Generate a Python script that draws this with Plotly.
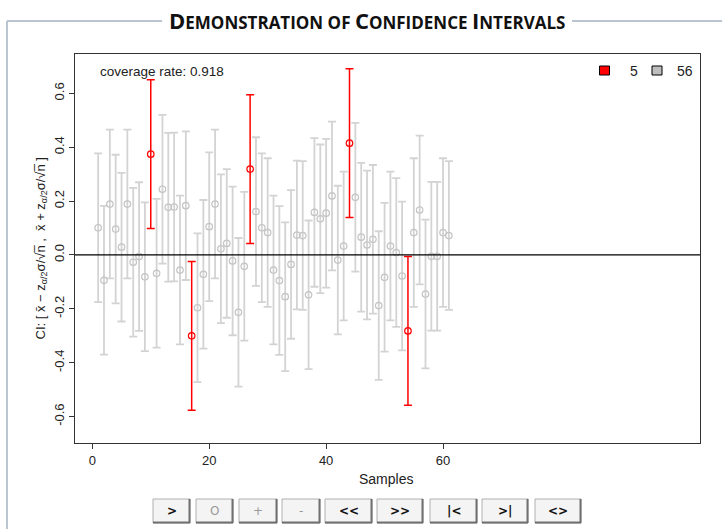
import plotly.graph_objects as go

# ---------------- data ----------------
samples = list(range(1, 62))
sample_means = [
    0.101, -0.094, 0.189, 0.096, 0.029, 0.189, -0.027, -0.006, -0.081, 0.374,
    -0.068, 0.244, 0.177, 0.178, -0.056, 0.183, -0.300, -0.196, -0.072, 0.105,
    0.189, 0.023, 0.043, -0.022, -0.213, -0.042, 0.319, 0.161, 0.101, 0.083,
    -0.056, -0.095, -0.155, -0.035, 0.074, 0.072, -0.148, 0.158, 0.134, 0.155,
    0.219, -0.019, 0.033, 0.415, 0.214, 0.066, 0.037, 0.058, -0.188, -0.083,
    0.033, 0.009, -0.078, -0.282, 0.083, 0.167, -0.145, -0.005, -0.005, 0.083,
    0.072,
]
half_width = 0.276
true_mean = 0.0
x_limits = [1, 100]
x_ticks = [0, 20, 40, 60]
y_ticks = [-0.6, -0.4, -0.2, 0.0, 0.2, 0.4, 0.6]
button_labels = [">", "O", "+", "-", "<<", ">>", "|<", ">|", "<>"]

# ---------------- derived ----------------
miss_x, miss_y, hit_x, hit_y = [], [], [], []
for s, m in zip(samples, sample_means):
    if m - half_width <= true_mean <= m + half_width:
        hit_x.append(s); hit_y.append(m)
    else:
        miss_x.append(s); miss_y.append(m)
coverage = len(hit_x) / len(samples)

span = x_limits[1] - x_limits[0]
x_range = [x_limits[0] - 0.04 * span, x_limits[1] + 0.04 * span]
y_range = [-0.698, 0.746]

W, H = 722, 529
L, R, T, B = 75, 700, 54, 443
def px(x):
    return (x - L) / (R - L)
def py(y):
    return (B - y) / (B - T)

FONT = "Liberation Sans, Arial, sans-serif"
GRAY = "#d3d3d3"

fig = go.Figure()
fig.add_trace(go.Scatter(
    x=hit_x, y=hit_y, mode="markers",
    marker=dict(symbol="circle-open", size=6.5, color="#c4c4c4", line=dict(width=1.2)),
    error_y=dict(type="data", array=[half_width] * len(hit_x), color=GRAY,
                 thickness=1.8, width=4),
    showlegend=False, hoverinfo="skip"))
fig.add_trace(go.Scatter(
    x=miss_x, y=miss_y, mode="markers",
    marker=dict(symbol="circle-open", size=6.5, color="#ff0000", line=dict(width=1.2)),
    error_y=dict(type="data", array=[half_width] * len(miss_x), color="#ff0000",
                 thickness=1.5, width=4),
    showlegend=False, hoverinfo="skip"))

shapes = []
# true mean line
shapes.append(dict(type="line", xref="paper", yref="y", x0=0, x1=1,
                   y0=true_mean, y1=true_mean, line=dict(color="black", width=1.2),
                   layer="above"))
# fieldset border
FS = "#b9c6d1"
shapes.append(dict(type="line", xref="paper", yref="paper", x0=px(7), x1=px(7),
                   y0=py(21), y1=py(530), line=dict(color=FS, width=2)))
shapes.append(dict(type="line", xref="paper", yref="paper", x0=px(7), x1=px(162),
                   y0=py(21), y1=py(21), line=dict(color=FS, width=2)))
shapes.append(dict(type="line", xref="paper", yref="paper", x0=px(572), x1=px(723),
                   y0=py(21), y1=py(21), line=dict(color=FS, width=2)))
# legend squares
shapes.append(dict(type="rect", xref="paper", yref="paper", x0=px(599.5), x1=px(609.5),
                   y0=py(75), y1=py(66), fillcolor="#ff0000", line=dict(color="black", width=1)))
shapes.append(dict(type="rect", xref="paper", yref="paper", x0=px(652), x1=px(662),
                   y0=py(75), y1=py(66), fillcolor="#bebebe", line=dict(color="black", width=1)))

annotations = []
annotations.append(dict(
    xref="paper", yref="paper", x=px(367), y=py(20.5), xanchor="center", yanchor="middle",
    showarrow=False,
    text='<b>D<span style="font-size:17px">EMONSTRATION OF </span>C'
         '<span style="font-size:17px">ONFIDENCE </span>I'
         '<span style="font-size:17px">NTERVALS</span></b>',
    font=dict(family="Open Sans, DejaVu Sans, sans-serif", size=22, color="#111")))
annotations.append(dict(
    xref="paper", yref="paper", x=px(98), y=py(71.5), xanchor="left", yanchor="middle",
    showarrow=False, text=f"coverage rate: {coverage:.3f}",
    font=dict(family=FONT, size=13.5, color="#222")))
annotations.append(dict(
    xref="paper", yref="paper", x=px(628), y=py(70.5), xanchor="left", yanchor="middle",
    showarrow=False, text=str(len(miss_x)), font=dict(family=FONT, size=14, color="#222")))
annotations.append(dict(
    xref="paper", yref="paper", x=px(675), y=py(70.5), xanchor="left", yanchor="middle",
    showarrow=False, text=str(len(hit_x)), font=dict(family=FONT, size=14, color="#222")))
annotations.append(dict(
    xref="paper", yref="paper", x=px(386), y=py(479), xanchor="center", yanchor="middle",
    showarrow=False, text="Samples", font=dict(family=FONT, size=14, color="#222")))
annotations.append(dict(
    xref="paper", yref="paper", x=px(41), y=0.5, xanchor="center", yanchor="middle",
    showarrow=False, textangle=-90,
    text="CI: [ x\u0304 \u2212 z<sub>\u03b1/2</sub>\u03c3/\u221an\u0305 ,  x\u0304 + z<sub>\u03b1/2</sub>\u03c3/\u221an\u0305 ]",
    font=dict(family=FONT, size=13, color="#222")))

# buttons
button_px = [(153, 190), (196, 233), (239, 277), (282, 320), (325, 372),
             (377, 423), (430, 477), (482, 528), (535, 581)]
button_colors = ["#111", "#999", "#999", "#999", "#111", "#111", "#111", "#111", "#111"]
for (x0, x1), lab, col in zip(button_px, button_labels, button_colors):
    shapes.append(dict(type="rect", xref="paper", yref="paper", x0=px(x0), x1=px(x1),
                       y0=py(523), y1=py(499), fillcolor="#f4f4f4",
                       line=dict(color="#b0b0b0", width=1)))
    shapes.append(dict(type="line", xref="paper", yref="paper", x0=px(x0), x1=px(x1),
                       y0=py(522.5), y1=py(522.5), line=dict(color="#707070", width=2)))
    shapes.append(dict(type="line", xref="paper", yref="paper", x0=px(x1 - 0.5), x1=px(x1 - 0.5),
                       y0=py(523), y1=py(499), line=dict(color="#707070", width=2)))
    label = lab.replace("<", "&lt;").replace(">", "&gt;")
    if col == "#111":
        label = f"<b>{label}</b>"
    annotations.append(dict(
        xref="paper", yref="paper", x=px((x0 + x1) / 2), y=py(511), xanchor="center",
        yanchor="middle", showarrow=False, text=label,
        font=dict(family="DejaVu Sans, sans-serif", size=12, color=col)))

axis_common = dict(showline=True, linecolor="#333", linewidth=1, mirror=True,
                   showgrid=False, zeroline=False, ticks="outside", ticklen=5,
                   tickcolor="#333", tickwidth=1,
                   tickfont=dict(family=FONT, size=13, color="#222"))
fig.update_layout(
    width=W, height=H,
    margin=dict(l=L, r=W - R, t=T, b=H - B, pad=0),
    plot_bgcolor="white", paper_bgcolor="white",
    xaxis=dict(range=x_range, tickvals=x_ticks, ticktext=[str(v) for v in x_ticks],
               **axis_common),
    yaxis=dict(range=y_range, tickvals=y_ticks, ticktext=[f"{v:.1f}" for v in y_ticks],
               tickangle=-90, **axis_common),
    shapes=shapes, annotations=annotations, showlegend=False,
)
fig.write_html("out.html")
